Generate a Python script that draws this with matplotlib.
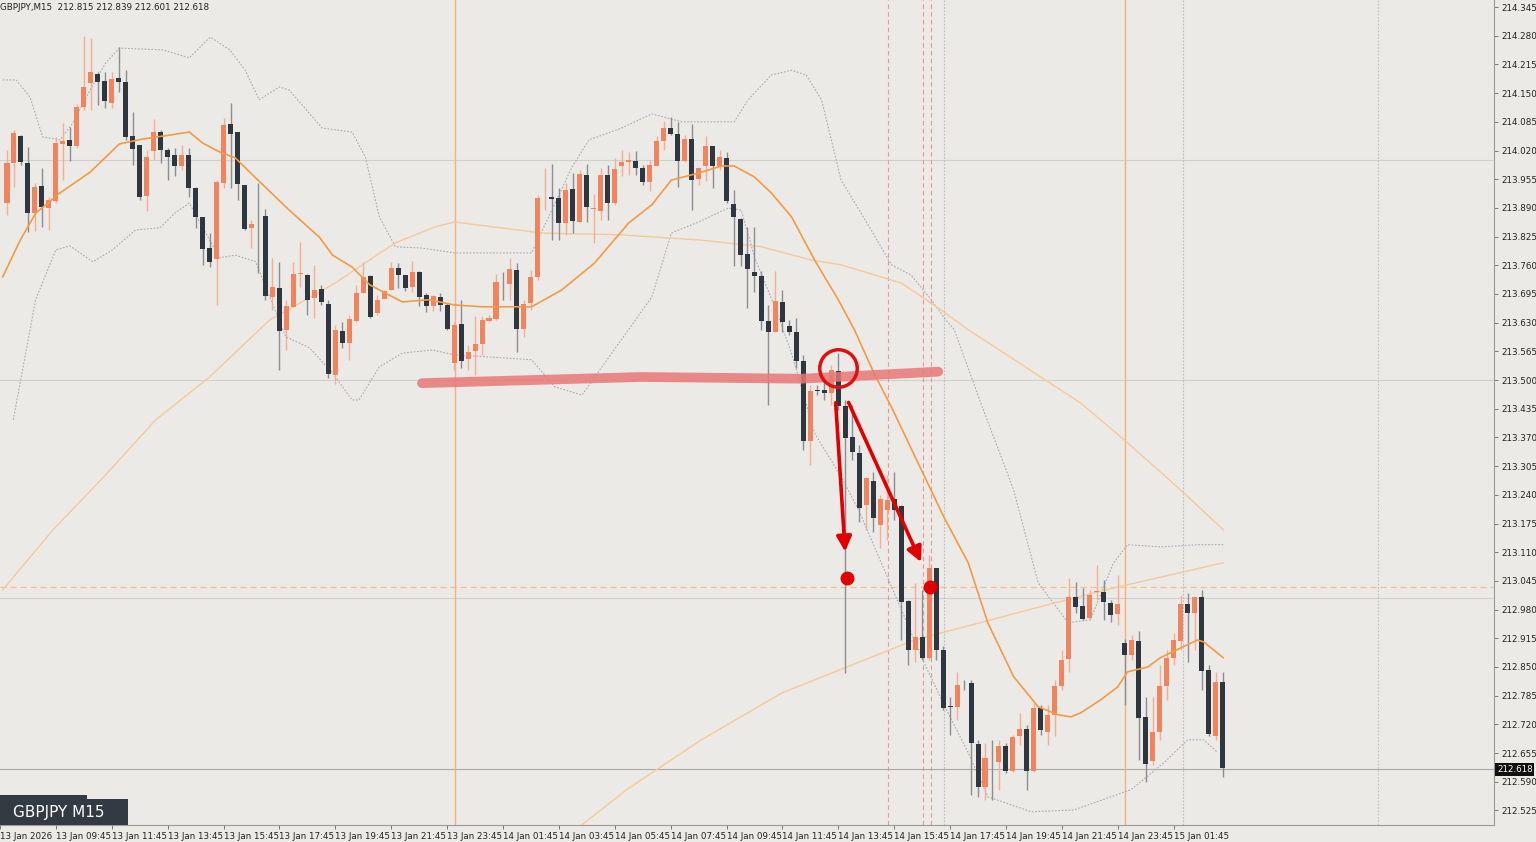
import matplotlib
matplotlib.use("Agg")
import matplotlib.pyplot as plt
import numpy as np

opens = [213.901,213.992,214.053,213.992,213.878,213.939,213.890,213.906,214.035,214.044,
214.030,214.119,214.173,214.193,214.178,214.128,214.184,214.175,214.053,214.033,
213.917,214.019,214.062,214.021,214.010,213.985,214.010,213.935,213.869,213.799,
213.775,213.946,214.080,214.062,213.942,213.845,213.872,213.872,213.688,213.709,
213.614,213.666,213.740,213.738,213.686,213.706,213.673,213.512,213.612,213.584,
213.634,213.697,213.736,213.652,213.684,213.704,213.754,213.738,213.711,213.745,
213.693,213.668,213.688,213.670,213.539,213.627,213.548,213.566,213.582,213.634,
213.639,213.720,213.718,213.749,213.616,213.675,213.734,213.912,213.915,213.912,
213.856,213.933,213.858,213.965,213.888,213.883,213.965,213.901,213.985,213.994,
213.997,213.981,213.949,213.985,214.042,214.071,214.058,213.997,214.046,213.956,
213.985,214.030,213.985,214.003,213.899,213.865,213.786,213.745,213.736,213.634,
213.609,213.677,213.623,213.609,213.543,213.362,213.476,213.478,213.471,213.521,
213.442,213.371,213.335,213.217,213.271,213.172,213.206,213.231,213.215,213.000,
212.889,212.918,212.871,213.075,212.889,212.760,212.760,212.814,212.814,212.676,
212.578,212.644,212.635,212.671,212.615,212.694,212.710,212.615,212.758,212.703,
212.742,212.807,212.868,213.009,212.989,212.961,213.020,213.020,212.995,212.971,
212.905,212.877,212.909,212.737,212.637,212.703,212.807,212.871,212.909,212.993,
212.973,213.009,212.843,212.694,212.816]
highs = [214.021,214.067,214.056,214.028,213.946,213.981,213.915,214.051,214.082,214.073,
214.126,214.279,214.275,214.197,214.197,214.197,214.254,214.202,214.107,214.033,
214.021,214.092,214.067,214.026,214.026,214.033,214.026,213.937,213.869,213.833,
213.953,214.094,214.128,214.062,213.942,213.863,213.946,213.888,213.777,213.767,
213.682,213.767,213.813,213.740,213.761,213.715,213.682,213.625,213.632,213.648,
213.715,213.767,213.738,213.693,213.704,213.767,213.765,213.738,213.770,213.747,
213.697,213.693,213.697,213.675,213.632,213.682,213.580,213.645,213.645,213.648,
213.740,213.745,213.777,213.765,213.682,213.749,213.919,213.981,213.990,213.935,
213.946,213.969,213.976,213.990,213.922,213.981,213.988,214.003,214.021,214.017,
214.019,213.988,213.999,214.053,214.087,214.096,214.085,214.056,214.080,213.981,
214.053,214.030,214.021,214.017,213.931,213.867,213.847,213.847,213.747,213.670,
213.747,213.704,213.636,213.641,213.557,213.489,213.489,213.512,213.534,213.561,
213.455,213.444,213.353,213.280,213.292,213.240,213.285,213.292,213.217,213.002,
213.041,213.025,213.104,213.075,212.898,212.782,212.839,212.821,212.821,212.685,
212.678,212.685,212.685,212.678,212.696,212.746,212.719,212.769,212.764,212.764,
212.821,212.889,213.052,213.043,213.029,213.025,213.082,213.047,213.002,213.059,
212.914,212.923,212.932,212.782,212.782,212.855,212.889,212.927,213.013,213.018,
213.009,213.025,212.855,212.839,212.839]
lows = [213.874,213.937,213.988,213.835,213.838,213.847,213.840,213.901,213.953,213.997,
214.026,214.112,214.112,214.124,214.117,214.117,214.152,214.044,213.988,213.908,
213.883,213.999,213.992,213.953,213.962,213.976,213.915,213.845,213.761,213.757,
213.670,213.935,213.935,213.908,213.840,213.799,213.742,213.682,213.659,213.523,
213.568,213.666,213.711,213.648,213.641,213.670,213.505,213.491,213.573,213.546,
213.632,213.697,213.641,213.648,213.691,213.704,213.709,213.702,213.700,213.668,
213.655,213.657,213.657,213.614,213.523,213.527,213.523,213.512,213.557,213.632,
213.636,213.682,213.682,213.564,213.598,213.659,213.727,213.885,213.817,213.817,
213.829,213.833,213.858,213.858,213.811,213.863,213.863,213.897,213.962,213.965,
213.965,213.942,213.928,213.985,214.021,214.056,213.937,213.994,213.885,213.942,
213.951,213.935,213.976,213.901,213.759,213.759,213.664,213.700,213.614,213.444,
213.609,213.609,213.602,213.527,213.342,213.308,213.466,213.455,213.444,213.432,
212.836,213.319,213.179,213.161,213.156,213.120,213.138,213.183,212.911,212.855,
212.862,212.866,212.866,212.866,212.753,212.696,212.730,212.798,212.560,212.556,
212.549,212.549,212.572,212.610,212.612,212.674,212.572,212.612,212.696,212.674,
212.694,212.798,212.839,212.973,212.957,212.957,213.002,212.957,212.952,212.946,
212.764,212.866,212.640,212.590,212.628,212.685,212.776,212.855,212.889,212.862,
212.889,212.798,212.694,212.685,212.601]
closes = [213.992,214.060,213.994,213.878,213.937,213.892,213.908,214.037,214.042,214.030,
214.119,214.164,214.197,214.175,214.133,214.182,214.175,214.051,214.024,213.915,
214.005,214.062,214.021,214.005,213.985,214.010,213.935,213.869,213.797,213.767,
213.949,214.078,214.058,213.944,213.842,213.854,213.871,213.690,213.711,213.612,
213.668,213.740,213.741,213.682,213.704,213.677,213.514,213.614,213.584,213.639,
213.697,213.734,213.643,213.682,213.702,213.754,213.738,213.709,213.745,213.688,
213.668,213.691,213.670,213.616,213.625,213.543,213.564,213.582,213.636,213.641,
213.722,213.719,213.752,213.616,213.673,213.734,213.912,213.913,213.910,213.856,
213.931,213.860,213.967,213.892,213.889,213.965,213.901,213.978,213.994,213.999,
213.981,213.949,213.988,214.042,214.071,214.058,213.997,214.046,213.953,213.981,
214.030,213.985,214.005,213.906,213.869,213.783,213.752,213.736,213.634,213.609,
213.679,213.632,213.609,213.543,213.362,213.476,213.475,213.471,213.523,213.442,
213.369,213.337,213.211,213.278,213.188,213.231,213.229,213.206,212.998,212.889,
212.918,212.871,213.075,212.889,212.758,212.759,212.810,212.813,212.678,212.578,
212.644,212.643,212.671,212.615,212.692,212.710,212.615,212.758,212.708,212.742,
212.807,212.866,213.009,212.986,212.959,213.013,213.022,212.998,212.968,212.993,
212.877,212.911,212.735,212.631,212.703,212.807,212.871,212.911,212.993,212.973,
213.009,212.841,212.699,212.816,212.622]

time_labels = ["13 Jan 2026","13 Jan 09:45","13 Jan 11:45","13 Jan 13:45","13 Jan 15:45",
"13 Jan 17:45","13 Jan 19:45","13 Jan 21:45","13 Jan 23:45","14 Jan 01:45","14 Jan 03:45",
"14 Jan 05:45","14 Jan 07:45","14 Jan 09:45","14 Jan 11:45","14 Jan 13:45","14 Jan 15:45",
"14 Jan 17:45","14 Jan 19:45","14 Jan 21:45","14 Jan 23:45","15 Jan 01:45"]
price_ticks = [round(212.525 + 0.065*k, 3) for k in range(29)]

ma20_x = [-0.6,1.9,4.1,7.6,11.9,16.1,19.4,23.3,26.1,28.0,30.4,32.7,35.6,40.4,44.7,46.6,49.4,51.9,56.6,60.4,64.1,68.0,75.1,79.4,84.1,89.0,92.3,95.1,99.0,102.3,104.1,107.0,109.4,112.3,115.6,119.0,121.3,124.1,126.6,130.9,134.1,137.6,140.4,144.1,147.6,150.4,152.3,153.7,156.6,159.0,160.4,163.3,165.1,168.0,170.4,171.3,174.1]
ma20_y = [213.734,213.817,213.878,213.924,213.971,214.035,214.046,214.055,214.062,214.037,214.017,214.003,213.958,213.885,213.824,213.783,213.756,213.716,213.677,213.682,213.670,213.666,213.666,213.704,213.765,213.856,213.897,213.953,213.969,213.985,213.985,213.960,213.924,213.870,213.772,213.682,213.614,213.516,213.439,213.296,213.190,213.086,212.950,212.828,212.760,212.742,212.737,212.746,212.776,212.805,212.839,212.850,212.871,212.893,212.911,212.907,212.871]
slow_x = [-0.6,6.6,13.7,21.3,29.0,37.6,47.0,55.6,61.3,64.1,76.6,88.0,99.4,108.0,115.1,119.4,128.0,133.7,137.6,153.7,160.4,168.0,174.1]
slow_y = [213.025,213.161,213.278,213.410,213.507,213.636,213.720,213.811,213.847,213.858,213.833,213.829,213.817,213.802,213.772,213.761,213.720,213.659,213.614,213.448,213.358,213.251,213.161]
long_x = [80.1,88.7,99.4,110.9,129.9,149.0,158.4,174.1]
long_y = [212.465,212.572,212.685,212.791,212.911,212.991,213.029,213.086]
bbu_x = [-0.6,1.3,3.3,5.1,7.6,9.4,11.9,14.1,16.1,22.3,26.1,29.1,31.9,34.1,36.1,39.0,40.4,45.1,49.4,51.3,53.3,55.6,59.4,64.1,75.1,80.9,83.3,88.0,92.3,96.6,104.1,106.1,109.4,112.3,114.4,116.6,119.4,123.7,126.6,129.4,132.3,134.4,135.6,139.4,144.1,147.6,151.9,155.1,158.4,160.4,165.1,170.4,174.1]
bbu_y = [214.180,214.180,214.141,214.051,214.044,214.082,214.157,214.218,214.252,214.248,214.230,214.277,214.248,214.202,214.135,214.164,214.157,214.071,214.062,214.005,213.870,213.802,213.799,213.788,213.788,213.983,214.044,214.071,214.103,214.085,214.085,214.135,214.191,214.202,214.191,214.135,213.953,213.840,213.761,213.738,213.682,213.636,213.614,213.448,213.251,213.041,212.950,212.957,213.086,213.127,213.122,213.127,213.127]
bbl_x = [0.9,4.1,7.0,9.0,12.3,15.1,18.4,21.9,24.1,26.1,30.4,32.7,35.6,39.9,43.3,46.6,49.4,50.4,53.3,56.6,60.9,64.1,71.3,75.1,78.4,82.3,92.3,95.1,99.0,103.3,105.1,107.0,109.9,112.3,115.6,119.4,121.9,131.3,134.7,137.6,140.4,146.6,152.7,160.9,165.6,169.0,171.3,173.3]
bbl_y = [213.410,213.682,213.795,213.804,213.768,213.795,213.840,213.845,213.879,213.901,213.777,213.783,213.768,213.598,213.573,213.516,213.455,213.455,213.530,213.561,213.568,213.557,213.550,213.546,213.485,213.466,213.688,213.833,213.858,213.890,213.885,213.779,213.666,213.561,213.380,213.281,213.206,212.859,212.746,212.656,212.556,212.522,212.526,212.572,212.633,212.685,212.685,212.656]

level_x = [59.4,90.9,113.7,133.3]
level_y = [213.493,213.507,213.503,213.519]

BG = "#ECEAE6"
BULL = "#F0845F"; BEAR = "#2E363F"
fig = plt.figure(figsize=(15.36, 8.42), dpi=100, facecolor=BG)
ax = fig.add_axes([0, 17/842, 1494/1536, 825/842], facecolor=BG)

n = len(closes)
idx = np.arange(n)
o = np.array(opens); c = np.array(closes); h = np.array(highs); l = np.array(lows)
bull = c >= o

# grid-ish horizontal / vertical lines
for p in [213.999, 213.500, 213.007]:
    ax.axhline(p, color="#D2D0CC", lw=0.8, zorder=0)
ax.axhline(212.618, color="#A9A9A9", lw=0.8, zorder=0)
ax.axhline(213.032, color="#F2C28E", lw=0.9, ls=(0, (5, 3)), zorder=0)
for xv in [64.1, 160.1]:
    ax.axvline(xv, color="#F4B27A", lw=1.0, zorder=0)
for xv in [126.1, 131.1, 132.3]:
    ax.axvline(xv, color="#E59A9A", lw=0.8, ls=(0, (4, 3)), zorder=0)
for xv in [134.1, 168.3, 196.3]:
    ax.axvline(xv, color="#BDBDBD", lw=0.8, ls=(0, (1.5, 1.5)), zorder=0)

# indicators
ax.plot(bbu_x, bbu_y, color="#A8A8B8", lw=0.8, ls=(0, (1.5, 1.5)), zorder=1)
ax.plot(bbl_x, bbl_y, color="#A8A8B8", lw=0.8, ls=(0, (1.5, 1.5)), zorder=1)
ax.plot(slow_x, slow_y, color="#F6C89A", lw=1.0, zorder=1)
ax.plot(long_x, long_y, color="#F6C89A", lw=1.0, zorder=1)
ax.plot(ma20_x, ma20_y, color="#F39A45", lw=1.2, zorder=3)

# candles
ax.vlines(idx[bull], l[bull], h[bull], color="#F4AE94", lw=1.0, zorder=2)
ax.vlines(idx[~bull], l[~bull], h[~bull], color="#8A8E93", lw=1.0, zorder=2)
body = np.maximum(np.abs(c - o), 0.0015)
ax.bar(idx[bull], body[bull], bottom=np.minimum(o, c)[bull], width=0.72, color=BULL, zorder=2.5)
ax.bar(idx[~bull], body[~bull], bottom=np.minimum(o, c)[~bull], width=0.72, color=BEAR, zorder=2.5)

# annotations
ax.plot(level_x, level_y, color="#E87878", lw=7, alpha=0.85, solid_capstyle="round", zorder=4)
ax.plot([118.9], [213.527], marker="o", ms=27, mfc="none", mec="#E01010", mew=2.5, zorder=5)
for (x0, y0, x1, y1) in [(118.6, 213.455, 120.0, 213.105), (120.3, 213.455, 131.0, 213.082)]:
    ax.annotate("", xy=(x1, y1), xytext=(x0, y0),
                arrowprops=dict(arrowstyle="-|>,head_length=0.9,head_width=0.45", color="#E00000", lw=2.6),
                zorder=5)
ax.plot([120.3, 132.1], [213.052, 213.032], "o", color="#E00000", ms=9, zorder=6)

ax.set_xlim(-0.57, 212.86)
ax.set_ylim(212.492, 214.361)

ax.yaxis.tick_right()
ax.set_yticks(price_ticks)
ax.set_yticklabels([f"{p:.3f}" for p in price_ticks], fontsize=6.3, color="#222")
ax.set_xticks([8*k - 1 for k in range(len(time_labels))])
ax.set_xticklabels(time_labels, fontsize=6.3, color="#222", ha="left")
ax.tick_params(axis="both", length=3, width=0.6, color="#666", pad=2)
for s in ["top", "left"]:
    ax.spines[s].set_visible(False)
for s in ["right", "bottom"]:
    ax.spines[s].set_color("#9A9A9A")

ax.text(1.002, (212.618 - 212.492) / (214.361 - 212.492), "212.618", transform=ax.transAxes,
        fontsize=6.3, color="white", va="center", ha="left",
        bbox=dict(boxstyle="square,pad=0.2", fc="#111", ec="none"), zorder=10, clip_on=False)

fig.text(0.0, 0.997, "GBPJPY,M15  212.815 212.839 212.601 212.618", fontsize=6.3, color="#222", va="top")
fig.patches.append(plt.Rectangle((0, 17/842 + 0.0), 128/1536, 26/842, transform=fig.transFigure,
                                 fc="#323B44", ec="none", zorder=10))
fig.patches.append(plt.Rectangle((0, 43/842), 87/1536, 4/842, transform=fig.transFigure,
                                 fc="#323B44", ec="none", zorder=10))
fig.text(13/1536, 30/842, "GBPJPY M15", fontsize=11, color="white", va="center", zorder=11)

fig.savefig("out.png", dpi=100, facecolor=BG)
